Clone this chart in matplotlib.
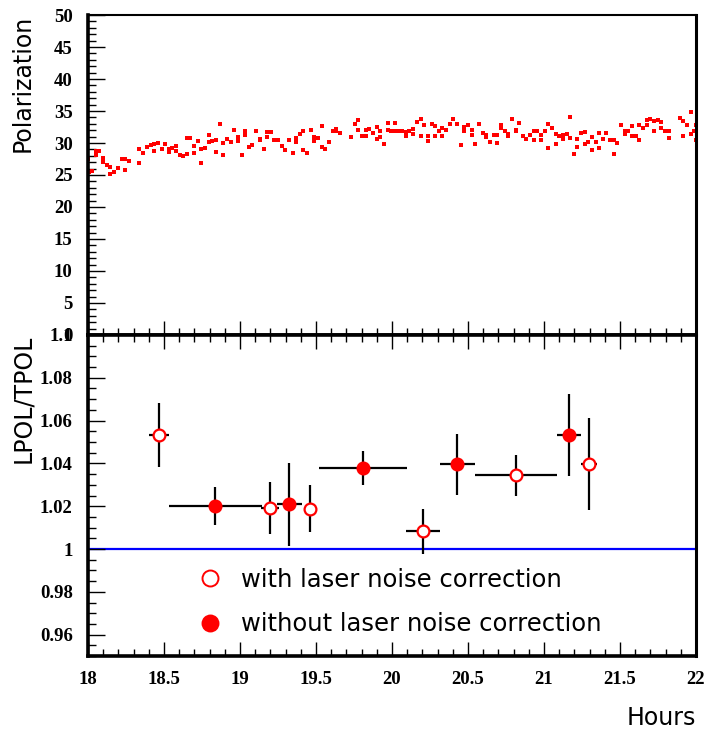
import numpy as np
import matplotlib
matplotlib.use("Agg")
import matplotlib.pyplot as plt
from matplotlib.lines import Line2D
from matplotlib.ticker import MultipleLocator, FormatStrFormatter

plt.rcParams['font.family'] = 'Liberation Serif'
plt.rcParams['font.weight'] = 'bold'

# top panel: polarization vs time
hours = [18.002, 18.007, 18.028, 18.051, 18.053, 18.074, 18.101, 18.101, 18.123, 18.147,
         18.147, 18.171, 18.195, 18.222, 18.243, 18.243, 18.268, 18.338, 18.338, 18.362,
         18.386, 18.413, 18.436, 18.436, 18.461, 18.485, 18.507, 18.531, 18.531, 18.555,
         18.579, 18.579, 18.603, 18.627, 18.649, 18.649, 18.673, 18.697, 18.697, 18.722,
         18.745, 18.745, 18.770, 18.794, 18.794, 18.818, 18.842, 18.842, 18.866, 18.888,
         18.888, 18.914, 18.939, 18.963, 18.987, 18.987,
         19.011, 19.033, 19.033, 19.057, 19.081, 19.107, 19.132, 19.132, 19.158, 19.180,
         19.180, 19.202, 19.226, 19.250, 19.274, 19.298, 19.322, 19.347, 19.370, 19.370,
         19.395, 19.416, 19.416, 19.441, 19.467, 19.489, 19.489, 19.513, 19.538, 19.538,
         19.561, 19.586, 19.610, 19.634, 19.634, 19.658, 19.730, 19.755, 19.778, 19.778,
         19.803, 19.827, 19.827, 19.851, 19.875, 19.899, 19.899, 19.923, 19.923, 19.947,
         19.972, 19.972,
         19.995, 20.020, 20.020, 20.044, 20.068, 20.092, 20.092, 20.114, 20.138, 20.138,
         20.164, 20.189, 20.189, 20.213, 20.237, 20.237, 20.261, 20.283, 20.283, 20.307,
         20.331, 20.331, 20.355, 20.380, 20.403, 20.428, 20.452, 20.476, 20.476, 20.500,
         20.524, 20.524, 20.548, 20.572, 20.597, 20.620, 20.620, 20.645, 20.669, 20.693,
         20.693, 20.717, 20.717, 20.741, 20.765, 20.765, 20.789, 20.814, 20.814, 20.835,
         20.860, 20.884, 20.908, 20.932, 20.932, 20.956,
         20.982, 20.982, 21.005, 21.026, 21.026, 21.053, 21.077, 21.077, 21.101, 21.125,
         21.125, 21.149, 21.171, 21.171, 21.195, 21.219, 21.219, 21.243, 21.268, 21.268,
         21.291, 21.316, 21.316, 21.340, 21.361, 21.361, 21.386, 21.410, 21.434, 21.459,
         21.459, 21.482, 21.507, 21.531, 21.531, 21.555, 21.579, 21.579, 21.603, 21.627,
         21.627, 21.651, 21.676, 21.676, 21.699, 21.724, 21.724, 21.748, 21.772, 21.772,
         21.796, 21.820, 21.820, 21.893, 21.916, 21.916, 21.941, 21.965, 21.965, 21.989,
         22.000, 22.000]
polarization = [27.45, 25.5, 25.7, 28.75, 28.1, 28.75, 27.7, 27.1, 26.5, 26.2,
                25.2, 25.4, 26.1, 27.45, 27.45, 25.8, 27.2, 29.1, 26.8, 28.5,
                29.3, 29.7, 29.8, 28.8, 30.0, 29.0, 29.9, 29.0, 28.6, 29.2,
                29.6, 28.75, 28.2, 28.0, 28.3, 30.8, 30.8, 29.6, 28.4, 30.3,
                29.0, 26.8, 29.2, 31.2, 30.2, 30.3, 30.4, 28.6, 33.0, 30.0,
                28.1, 30.7, 30.2, 32.1, 31.0, 30.3,
                28.2, 31.8, 31.25, 29.3, 29.75, 31.8, 30.7, 30.5, 29.1, 31.7,
                31.0, 31.7, 30.5, 30.5, 29.6, 28.9, 30.5, 28.5, 30.8, 30.2,
                31.35, 31.8, 28.9, 28.5, 32.1, 30.9, 30.3, 30.8, 32.65, 29.3,
                29.1, 30.2, 31.9, 32.2, 31.9, 31.6, 31.0, 32.9, 33.6, 32.0,
                31.1, 32.1, 31.1, 32.25, 31.55, 32.45, 30.6, 31.8, 30.9, 29.8,
                33.1, 32.1,
                31.95, 33.1, 31.8, 31.8, 31.8, 31.7, 31.15, 31.95, 32.25, 31.35,
                33.3, 33.8, 31.15, 32.85, 31.05, 30.3, 33.0, 32.65, 31.15, 31.8,
                32.35, 31.05, 32.1, 33.0, 33.8, 33.0, 29.75, 32.55, 31.8, 32.75,
                32.1, 31.25, 29.8, 32.9, 31.55, 31.3, 30.9, 30.15, 31.25, 31.25,
                30.05, 32.85, 32.35, 31.9, 31.4, 31.05, 33.8, 32.1, 31.8, 33.2,
                31.05, 30.6, 31.25, 31.9, 30.4, 31.8,
                31.2, 30.4, 31.9, 33.0, 29.2, 32.35, 31.45, 29.8, 31.15, 31.3,
                30.6, 31.45, 34.0, 30.8, 28.3, 30.6, 29.4, 31.5, 31.7, 29.8,
                30.1, 30.95, 28.9, 30.2, 31.6, 29.2, 30.6, 31.6, 30.5, 30.5,
                28.3, 29.95, 32.85, 31.8, 31.4, 31.9, 32.65, 31.15, 31.15, 32.85,
                30.5, 32.4, 33.6, 32.85, 33.8, 33.4, 31.9, 33.6, 33.3, 32.35,
                31.8, 31.8, 30.8, 33.9, 33.4, 31.05, 32.85, 34.85, 31.4, 31.8,
                32.85, 30.4]

# bottom panel: LPOL/TPOL ratio
hours_with = [18.467, 19.197, 19.463, 20.204, 20.814, 21.296]
ratio_with = [1.0533, 1.0192, 1.0189, 1.0082, 1.0344, 1.0397]
xerr_with = [0.064, 0.06, 0.04, 0.112, 0.27, 0.05]
yerr_with = [0.0148, 0.0122, 0.011, 0.0103, 0.0096, 0.0216]

hours_without = [18.838, 19.325, 19.809, 20.43, 21.164]
ratio_without = [1.0201, 1.0208, 1.0378, 1.0395, 1.0532]
xerr_without = [0.305, 0.08, 0.287, 0.115, 0.08]
yerr_without = [0.009, 0.0194, 0.008, 0.0143, 0.019]

fig = plt.figure(figsize=(7.06, 7.29), dpi=100)
ax1 = fig.add_axes([0.1246, 0.5405, 0.8612, 0.4389])
ax2 = fig.add_axes([0.1246, 0.1001, 0.8612, 0.4404])

ax1.plot(hours, polarization, 's', color='red', ms=3, mew=0)
ax1.set_xlim(18, 22)
ax1.set_ylim(0, 50)

ax2.axhline(1.0, color='blue', lw=1.6, zorder=1)
ax2.errorbar(hours_with, ratio_with, xerr=xerr_with, yerr=yerr_with, fmt='o',
             ms=8.5, mfc='white', mec='red', mew=1.6, ecolor='black',
             elinewidth=1.6, capsize=0, zorder=3)
ax2.errorbar(hours_without, ratio_without, xerr=xerr_without, yerr=yerr_without,
             fmt='o', ms=8.5, mfc='red', mec='red', mew=1.6, ecolor='black',
             elinewidth=1.6, capsize=0, zorder=3)
ax2.set_xlim(18, 22)
ax2.set_ylim(0.95, 1.1)

# ticks
ax1.yaxis.set_major_locator(MultipleLocator(5))
ax1.yaxis.set_minor_locator(MultipleLocator(1))
ax2.yaxis.set_major_locator(MultipleLocator(0.02))
ax2.yaxis.set_minor_locator(MultipleLocator(0.005))
ax2.yaxis.set_major_formatter(FormatStrFormatter('%g'))
for ax in (ax1, ax2):
    ax.xaxis.set_major_locator(MultipleLocator(0.5))
    ax.xaxis.set_minor_locator(MultipleLocator(0.1))
    ax.xaxis.set_major_formatter(FormatStrFormatter('%g'))
    ax.tick_params(axis='y', which='both', direction='in', left=True, right=False,
                   width=1, labelsize=13.5, pad=11)
    ax.tick_params(axis='y', which='major', length=12)
    ax.tick_params(axis='y', which='minor', length=6)
    ax.tick_params(axis='x', which='major', length=10, width=1)
    ax.tick_params(axis='x', which='minor', length=5, width=1)

ax1.tick_params(axis='x', which='both', direction='in', bottom=True, top=False,
                labelbottom=False)
ax2.tick_params(axis='x', which='both', direction='in', bottom=True, top=True,
                labelsize=13.5, pad=11)

for sp in ('left', 'bottom'):
    ax1.spines[sp].set_linewidth(2.6)
    ax2.spines[sp].set_linewidth(2.6)
ax1.spines['top'].set_linewidth(1.5)
ax1.spines['right'].set_linewidth(2.2)
ax2.spines['top'].set_linewidth(2.6)
ax2.spines['right'].set_linewidth(2.2)

lab = dict(fontfamily='DejaVu Sans', fontweight='normal', fontsize=17)
ax1.set_ylabel('Polarization', loc='top', **lab)
ax1.yaxis.set_label_coords(-0.087, 1.0)
ax2.set_ylabel('LPOL/TPOL', loc='top', **lab)
ax2.yaxis.set_label_coords(-0.087, 1.0)
ax2.set_xlabel('Hours', loc='right', labelpad=13, **lab)

handles = [Line2D([], [], ls='none', marker='o', ms=11.5, mfc='white', mec='red', mew=1.4),
           Line2D([], [], ls='none', marker='o', ms=11.5, mfc='red', mec='red', mew=1.4)]
labels = ['with laser noise correction', 'without laser noise correction']
ax2.legend(handles, labels, loc='upper left', bbox_to_anchor=(0.181, 0.275),
           frameon=False,
           prop={'family': 'DejaVu Sans', 'weight': 'normal', 'size': 17.5},
           handlelength=1.0, handletextpad=0.75, labelspacing=0.85,
           borderpad=0, borderaxespad=0)

fig.savefig('out.png', dpi=100)
